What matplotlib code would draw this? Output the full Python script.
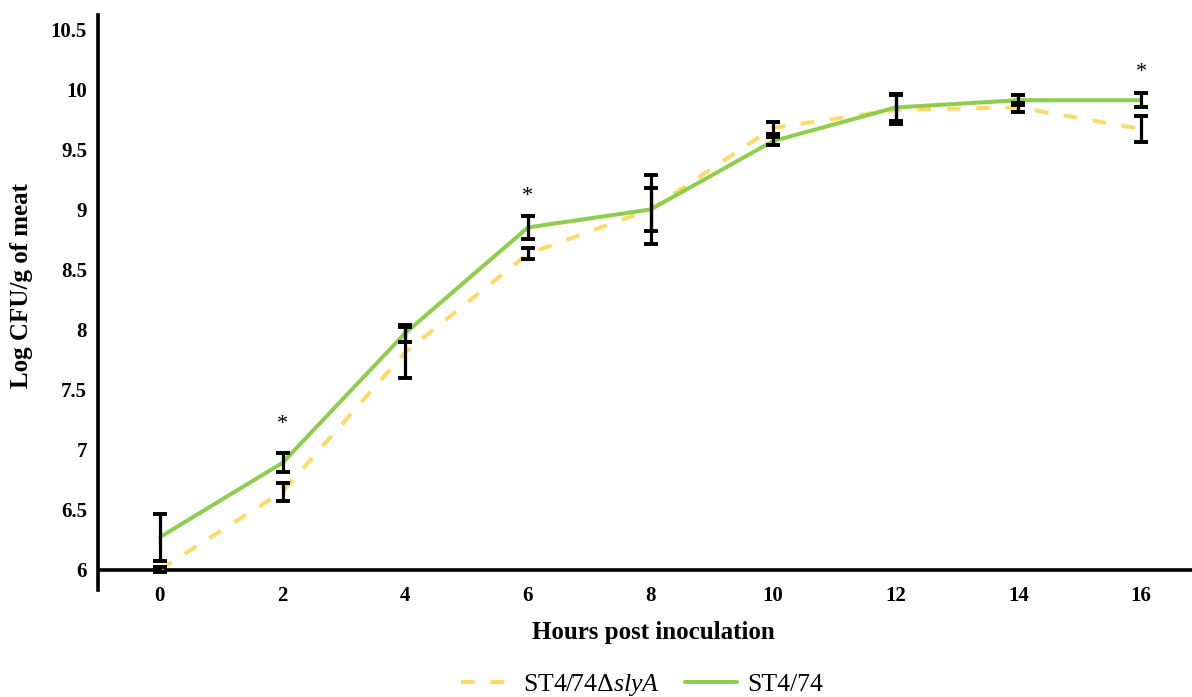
import matplotlib
matplotlib.use("Agg")
import matplotlib.pyplot as plt

plt.rcParams['font.family'] = ['Liberation Serif', 'DejaVu Serif']
plt.rcParams['mathtext.fontset'] = 'custom'
plt.rcParams['mathtext.it'] = 'Liberation Serif:italic'
plt.rcParams['mathtext.rm'] = 'Liberation Serif'

hours = [0, 2, 4, 6, 8, 10, 12, 14, 16]
wt_mean = [6.27, 6.89, 7.97, 8.85, 9.00, 9.57, 9.85, 9.91, 9.91]
wt_err = [0.195, 0.08, 0.07, 0.095, 0.18, 0.03, 0.11, 0.04, 0.06]
mut_mean = [6.00, 6.65, 7.81, 8.63, 9.00, 9.68, 9.83, 9.85, 9.67]
mut_err = [0.02, 0.075, 0.21, 0.045, 0.29, 0.05, 0.12, 0.04, 0.11]
sig_hours = [2, 6, 16]
sig_y = [7.21, 9.11, 10.14]
yticks = [6, 6.5, 7, 7.5, 8, 8.5, 9, 9.5, 10, 10.5]
ytick_labels = ['6', '6.5', '7', '7.5', '8', '8.5', '9', '9.5', '10', '10.5']

W, H = 1192, 697
fig = plt.figure(figsize=(W / 100, H / 100), dpi=100)
ax = fig.add_axes([98 / W, 1 - 590 / H, 1 - 98 / W, (590 - 15) / H])

green = '#8DCE4C'
yellow = '#FFD966'

ax.plot(hours, mut_mean, color=yellow, lw=2.9, linestyle=(0, (3.4, 3.9)), zorder=2,
        label=r'ST4/74Δ$\mathit{slyA}$')
ax.plot(hours, wt_mean, color=green, lw=2.9, zorder=3, label='ST4/74',
        solid_capstyle='round')
ax.errorbar(hours, mut_mean, yerr=mut_err, fmt='none', ecolor='black', elinewidth=2.3,
            capsize=4.8, capthick=2.8, zorder=4)
ax.errorbar(hours, wt_mean, yerr=wt_err, fmt='none', ecolor='black', elinewidth=2.3,
            capsize=4.8, capthick=2.8, zorder=4)

for h, y in zip(sig_hours, sig_y):
    ax.text(h, y, '*', ha='center', va='center', fontsize=16, zorder=5)

ax.set_xlim(-1.01, 16.83)
ax.set_ylim(5.83, 10.62)
ax.axhline(6, color='black', lw=2.6, zorder=1)

for s in ['top', 'right', 'bottom']:
    ax.spines[s].set_visible(False)
ax.spines['left'].set_linewidth(2.6)

ax.set_xticks(hours)
ax.set_xticklabels([str(h) for h in hours], fontsize=15, fontweight='bold')
ax.set_yticks(yticks)
ax.set_yticklabels(ytick_labels, fontsize=15, fontweight='bold')
ax.tick_params(axis='both', length=0)
ax.tick_params(axis='y', pad=8)
ax.tick_params(axis='x', pad=-3)

fig.text(653 / W, 1 - 633 / H, 'Hours post inoculation', ha='center', va='center',
         fontsize=18, fontweight='bold')
fig.text(22 / W, 1 - 285 / H, 'Log CFU/g of meat', ha='center', va='center',
         fontsize=18, fontweight='bold', rotation=90)

leg = fig.legend(loc='center', bbox_to_anchor=(642 / W, 1 - 685 / H), ncol=2,
                 frameon=False, fontsize=18.5, handlelength=2.0, columnspacing=1.0,
                 handletextpad=0.4)

fig.savefig('out.png', dpi=100)
